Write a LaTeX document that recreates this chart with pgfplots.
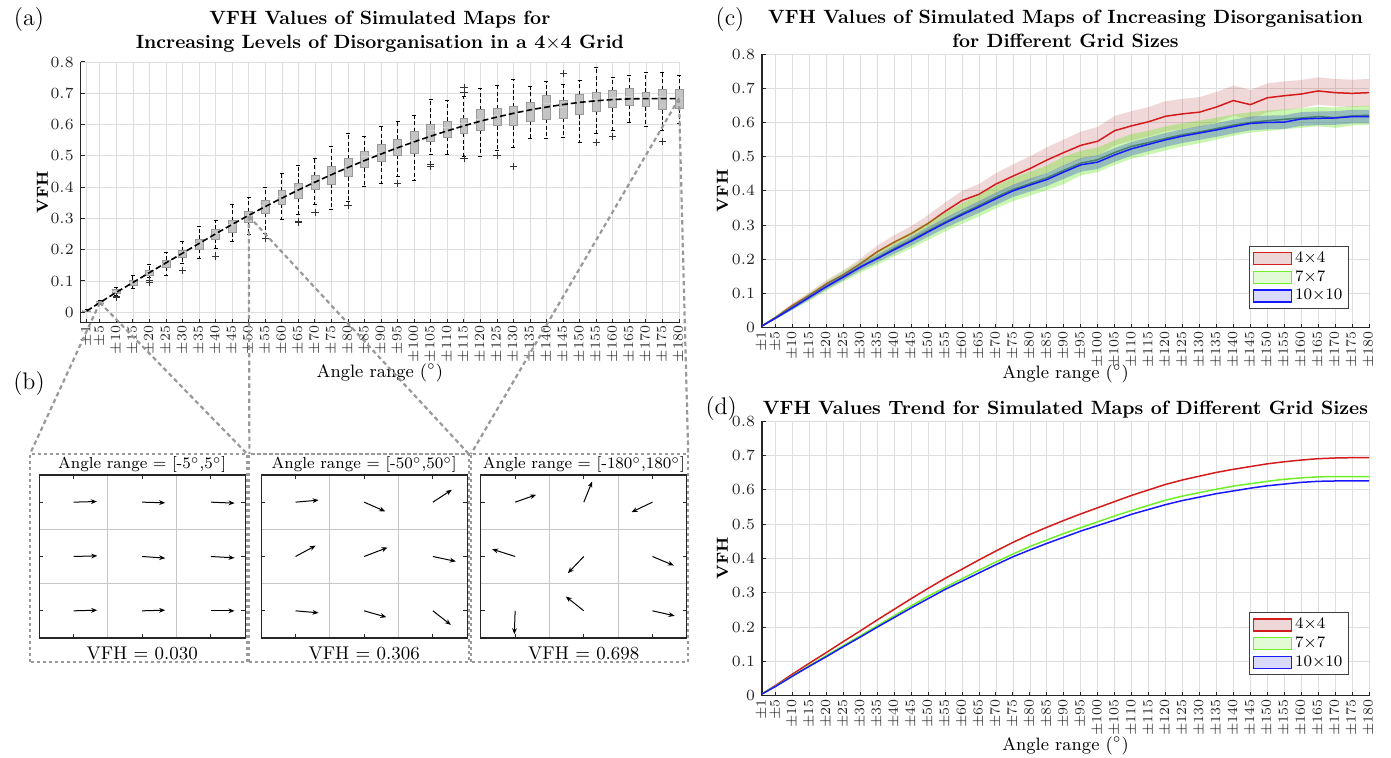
\RequirePackage{fix-cm}
\documentclass[border=0pt]{standalone}
\usepackage{pgfplots}
\pgfplotsset{compat=1.18}
\usepackage{pgfplotstable}
\usepgfplotslibrary{statistics}
\usetikzlibrary{arrows.meta}

\definecolor{tickc}{gray}{0.15}
\definecolor{gridc}{gray}{0.87}
\definecolor{lred}{RGB}{212,28,28}
\definecolor{lgreen}{RGB}{110,240,40}
\definecolor{dgreen}{RGB}{60,140,40}
\definecolor{lblue}{RGB}{25,25,255}
\definecolor{bred}{RGB}{180,60,60}
\definecolor{bgreen}{RGB}{100,230,30}
\definecolor{bblue}{RGB}{80,110,200}
\definecolor{lfr}{RGB}{236,214,214}
\definecolor{lfg}{RGB}{226,250,214}
\definecolor{lfb}{RGB}{218,218,250}
\definecolor{conn}{gray}{0.6}
\definecolor{boxfill}{gray}{0.77}
\definecolor{boxdraw}{gray}{0.6}

\newcommand{\fs}[1]{\fontsize{#1}{#1}\selectfont}
\newcommand{\bx}[6]{\addplot[boxplot prepared={draw position=#1,lower whisker=#2,lower quartile=#3,median=#4,upper quartile=#5,upper whisker=#6}] coordinates {};}

% trend line of panel (a)
\pgfplotstableread{
a t
1 0.004
5 0.031
10 0.064
15 0.095
20 0.127
25 0.158
30 0.189
35 0.220
40 0.251
45 0.281
50 0.310
55 0.338
60 0.365
65 0.391
70 0.416
75 0.440
80 0.463
85 0.485
90 0.506
95 0.526
100 0.545
105 0.563
110 0.580
115 0.596
120 0.611
125 0.624
130 0.636
135 0.647
140 0.656
145 0.664
150 0.671
155 0.676
160 0.680
165 0.682
170 0.683
175 0.683
180 0.683
}\ta

% panel (c): mean curves
\pgfplotstableread{
a rm gm bm
1 0.005 0.005 0.005
5 0.030 0.029 0.028
10 0.065 0.060 0.058
15 0.095 0.090 0.089
20 0.128 0.121 0.120
25 0.155 0.150 0.148
30 0.187 0.178 0.177
35 0.222 0.204 0.202
40 0.250 0.231 0.228
45 0.275 0.256 0.253
50 0.305 0.283 0.280
55 0.340 0.309 0.306
60 0.372 0.334 0.330
65 0.390 0.357 0.353
70 0.420 0.382 0.377
75 0.443 0.404 0.400
80 0.465 0.421 0.417
85 0.490 0.438 0.433
90 0.512 0.460 0.455
95 0.533 0.481 0.476
100 0.545 0.491 0.484
105 0.576 0.512 0.505
110 0.590 0.530 0.523
115 0.602 0.541 0.536
120 0.618 0.553 0.549
125 0.625 0.564 0.560
130 0.630 0.572 0.569
135 0.645 0.582 0.578
140 0.664 0.592 0.588
145 0.652 0.600 0.597
150 0.672 0.605 0.600
155 0.678 0.609 0.601
160 0.683 0.613 0.610
165 0.692 0.617 0.612
170 0.687 0.614 0.613
175 0.685 0.619 0.617
180 0.687 0.621 0.617
}\tc

% panel (d): trend curves
\pgfplotstableread{
a r g b
1 0.005 0.005 0.005
5 0.030 0.028 0.027
10 0.063 0.058 0.057
15 0.095 0.088 0.086
20 0.126 0.117 0.114
25 0.158 0.146 0.143
30 0.189 0.175 0.171
35 0.221 0.204 0.200
40 0.252 0.233 0.228
45 0.283 0.262 0.256
50 0.313 0.290 0.283
55 0.342 0.316 0.310
60 0.369 0.341 0.334
65 0.396 0.366 0.358
70 0.422 0.390 0.382
75 0.447 0.413 0.405
80 0.470 0.435 0.425
85 0.491 0.454 0.444
90 0.511 0.473 0.462
95 0.530 0.490 0.480
100 0.548 0.507 0.496
105 0.566 0.524 0.512
110 0.584 0.540 0.529
115 0.600 0.555 0.543
120 0.616 0.570 0.557
125 0.629 0.582 0.569
130 0.640 0.592 0.579
135 0.651 0.602 0.589
140 0.660 0.611 0.597
145 0.668 0.618 0.605
150 0.676 0.625 0.612
155 0.682 0.631 0.617
160 0.687 0.635 0.622
165 0.691 0.638 0.625
170 0.693 0.639 0.626
175 0.694 0.639 0.626
180 0.694 0.639 0.626
}\td

\pgfplotsset{
  vfh/.style={
    scale only axis,
    axis x line*=bottom, axis y line*=left,
    axis line style={tickc,line width=0.6pt},
    tick align=inside, major tick length=2pt,
    tick style={tickc,line width=0.5pt},
    xtick={1,5,10,15,20,25,30,35,40,45,50,55,60,65,70,75,80,85,90,95,100,105,110,115,120,125,130,135,140,145,150,155,160,165,170,175,180},
    xticklabel={$\pm\pgfmathprintnumber{\tick}$},
    xticklabel style={rotate=90,anchor=east,font=\fs{7},inner sep=1.5pt,text=tickc},
    ytick={0,0.1,0.2,0.3,0.4,0.5,0.6,0.7,0.8},
    yticklabel={$\pgfmathprintnumber[fixed,precision=1]{\tick}$},
    yticklabel style={font=\fs{7.8},text=tickc},
    grid=major, grid style={gridc,line width=0.4pt},
    xlabel={Angle range ($^\circ$)},
    xlabel style={font=\fs{9},anchor=base},
    ylabel={VFH},
    ylabel style={font=\fs{8}\bfseries,anchor=center},
    title style={anchor=south,inner sep=0pt,align=center,font=\fontsize{9.6}{12}\selectfont\bfseries},
  },
  lg/.style={
    legend style={at={(0.967,#1)},anchor=south east,draw=black!75,line width=0.5pt,
      font=\fs{8},inner xsep=1.5pt,inner ysep=1pt,row sep=-0.7pt,
      nodes={inner sep=1.6pt}},
    legend cell align=left,
  },
  bq/.style={
    scale only axis, width=103pt, height=81.5pt,
    xmin=0.5,xmax=3.5,ymin=0.5,ymax=3.5,
    xtick={1,2,3}, ytick={1,2,3}, xticklabels={}, yticklabels={},
    minor xtick={1.5,2.5}, minor ytick={1.5,2.5},
    xminorgrids, yminorgrids, minor grid style={gray!45,line width=0.4pt},
    minor tick length=0pt, major tick length=2pt, tick align=inside, tick pos=both,
    axis line style={tickc,line width=0.6pt}, tick style={tickc,line width=0.5pt},
    title style={at={(axis description cs:0.5,1)},anchor=base,yshift=-3pt,font=\fs{8}},
    xlabel style={at={(axis description cs:0.5,0)},anchor=base,yshift=-11pt,font=\fs{9.2}},
  },
}

\begin{document}
\begin{tikzpicture}[x=1pt,y=1pt]
\useasboundingbox (0pt,0pt) rectangle (695.5pt,379pt);

% ---------------- (a)
\begin{axis}[vfh, at={(40.35pt,217.7pt)}, anchor=south west, width=299.15pt, height=130.3pt,
  xmin=-0.8, xmax=180, ymin=-0.033, ymax=0.8, clip=false,
  title={VFH Values of Simulated Maps for\\Increasing Levels of Disorganisation in a 4$\times$4 Grid},
  title style={at={(axis description cs:0.5,1)},yshift=-1.15pt},
  xlabel style={at={(axis description cs:0.5,-0.21)}},
  ylabel style={at={(axis description cs:-0.064,0.5)}},
  boxplot/draw direction=y,
  boxplot/box extend=2.4, boxplot/whisker extend=1.3,
  boxplot/every box/.style={draw=boxdraw,fill=boxfill,line width=0.4pt},
  boxplot/every whisker/.style={black,dash pattern=on 2pt off 1.2pt,line width=0.5pt},
  boxplot/every median/.style={draw=gray!35,line width=0.4pt},
]
\bx{1}{0.002}{0.004}{0.005}{0.007}{0.009}
\bx{5}{0.025}{0.028}{0.031}{0.035}{0.038}
\bx{10}{0.052}{0.060}{0.067}{0.074}{0.080}
\bx{15}{0.077}{0.087}{0.095}{0.103}{0.119}
\bx{20}{0.112}{0.119}{0.130}{0.135}{0.154}
\bx{25}{0.119}{0.144}{0.156}{0.167}{0.190}
\bx{30}{0.156}{0.174}{0.190}{0.197}{0.226}
\bx{35}{0.172}{0.201}{0.220}{0.233}{0.273}
\bx{40}{0.204}{0.234}{0.252}{0.265}{0.293}
\bx{45}{0.226}{0.254}{0.280}{0.293}{0.343}
\bx{50}{0.247}{0.286}{0.310}{0.321}{0.366}
\bx{55}{0.252}{0.316}{0.340}{0.356}{0.399}
\bx{60}{0.295}{0.346}{0.370}{0.388}{0.444}
\bx{65}{0.311}{0.364}{0.395}{0.412}{0.470}
\bx{70}{0.346}{0.393}{0.420}{0.436}{0.491}
\bx{75}{0.329}{0.410}{0.445}{0.467}{0.531}
\bx{80}{0.353}{0.433}{0.465}{0.491}{0.573}
\bx{85}{0.401}{0.462}{0.497}{0.515}{0.563}
\bx{90}{0.412}{0.481}{0.510}{0.537}{0.595}
\bx{95}{0.433}{0.503}{0.530}{0.554}{0.609}
\bx{100}{0.420}{0.508}{0.548}{0.577}{0.630}
\bx{105}{0.505}{0.547}{0.580}{0.600}{0.680}
\bx{110}{0.505}{0.559}{0.592}{0.611}{0.676}
\bx{115}{0.497}{0.572}{0.605}{0.619}{0.689}
\bx{120}{0.499}{0.582}{0.615}{0.648}{0.716}
\bx{125}{0.518}{0.596}{0.628}{0.651}{0.725}
\bx{130}{0.527}{0.596}{0.635}{0.657}{0.745}
\bx{135}{0.556}{0.611}{0.648}{0.670}{0.721}
\bx{140}{0.556}{0.617}{0.668}{0.693}{0.737}
\bx{145}{0.559}{0.620}{0.655}{0.676}{0.729}
\bx{150}{0.542}{0.632}{0.672}{0.696}{0.740}
\bx{155}{0.570}{0.643}{0.680}{0.702}{0.783}
\bx{160}{0.580}{0.654}{0.688}{0.708}{0.751}
\bx{165}{0.607}{0.662}{0.690}{0.714}{0.758}
\bx{170}{0.595}{0.657}{0.688}{0.704}{0.765}
\bx{175}{0.582}{0.648}{0.690}{0.711}{0.768}
\bx{180}{0.602}{0.651}{0.683}{0.711}{0.758}
\addplot[black,line width=0.8pt,dash pattern=on 3pt off 1.5pt] table[x=a,y=t]{\ta};
\addplot[only marks,mark=+,mark size=1.8pt,black!80,mark options={line width=0.4pt}] coordinates {
(10,0.046)(10,0.050)(20,0.096)(20,0.101)(30,0.133)(40,0.180)(55,0.236)(65,0.286)(65,0.291)
(70,0.318)(80,0.340)(95,0.412)(105,0.465)(105,0.472)(115,0.492)(115,0.703)(115,0.718)
(125,0.502)(130,0.465)(145,0.763)(155,0.542)(160,0.563)(175,0.547)};
\coordinate (p5) at (axis cs:5,0.031);
\coordinate (p50) at (axis cs:50,0.307);
\coordinate (p180) at (axis cs:180,0.683);
\end{axis}

% ---------------- (c)
\begin{axis}[vfh, lg=0.07, at={(381pt,215.15pt)}, anchor=south west, width=303.5pt, height=136.85pt,
  xmin=1, xmax=180, ymin=0, ymax=0.8,
  title={VFH Values of Simulated Maps of Increasing Disorganisation\\for Different Grid Sizes},
  title style={at={(axis description cs:0.5,1)},yshift=-3.2pt},
  xlabel style={at={(axis description cs:0.5,-0.184)}},
  ylabel style={at={(axis description cs:-0.065,0.5)}},
]
% red band: upper edge forward, lower edge back
\addplot[fill=bred,fill opacity=0.2,draw=none,forget plot] coordinates {
(1,0.007)(5,0.034)(10,0.072)(15,0.104)(20,0.139)(25,0.168)(30,0.202)(35,0.240)(40,0.270)(45,0.297)
(50,0.329)(55,0.366)(60,0.400)(65,0.420)(70,0.452)(75,0.477)(80,0.501)(85,0.527)(90,0.550)(95,0.573)
(100,0.587)(105,0.619)(110,0.633)(115,0.645)(120,0.662)(125,0.669)(130,0.674)(135,0.689)(140,0.708)
(145,0.695)(150,0.714)(155,0.720)(160,0.724)(165,0.732)(170,0.727)(175,0.725)(180,0.727)
(180,0.647)(175,0.645)(170,0.647)(165,0.652)(160,0.642)(155,0.636)(150,0.630)(145,0.609)(140,0.620)
(135,0.601)(130,0.586)(125,0.581)(120,0.574)(115,0.559)(110,0.547)(105,0.533)(100,0.503)(95,0.493)
(90,0.474)(85,0.453)(80,0.429)(75,0.409)(70,0.388)(65,0.360)(60,0.344)(55,0.314)(50,0.281)(45,0.253)
(40,0.230)(35,0.204)(30,0.172)(25,0.142)(20,0.117)(15,0.086)(10,0.058)(5,0.026)(1,0.003)};
\addplot[lred,line width=0.75pt,forget plot] table[x=a,y=rm]{\tc};
% green band
\addplot[fill=bgreen,fill opacity=0.35,draw=none,forget plot] coordinates {
(1,0.007)(5,0.034)(10,0.068)(15,0.101)(20,0.134)(25,0.165)(30,0.195)(35,0.224)(40,0.253)(45,0.280)
(50,0.309)(55,0.337)(60,0.364)(65,0.389)(70,0.415)(75,0.438)(80,0.456)(85,0.474)(90,0.500)(95,0.517)
(100,0.527)(105,0.548)(110,0.566)(115,0.576)(120,0.588)(125,0.598)(130,0.605)(135,0.614)(140,0.623)
(145,0.630)(150,0.635)(155,0.638)(160,0.642)(165,0.645)(170,0.644)(175,0.647)(180,0.649)
(180,0.593)(175,0.591)(170,0.584)(165,0.589)(160,0.584)(155,0.580)(150,0.575)(145,0.570)(140,0.561)
(135,0.550)(130,0.539)(125,0.530)(120,0.518)(115,0.506)(110,0.494)(105,0.476)(100,0.455)(95,0.445)
(90,0.420)(85,0.402)(80,0.386)(75,0.370)(70,0.349)(65,0.325)(60,0.304)(55,0.281)(50,0.257)(45,0.232)
(40,0.209)(35,0.184)(30,0.161)(25,0.135)(20,0.108)(15,0.079)(10,0.052)(5,0.024)(1,0.003)};
\addplot[dgreen,line width=0.75pt,forget plot] table[x=a,y=gm]{\tc};
% blue band
\addplot[fill=bblue,fill opacity=0.42,draw=none,forget plot] coordinates {
(1,0.006)(5,0.031)(10,0.063)(15,0.096)(20,0.128)(25,0.157)(30,0.187)(35,0.213)(40,0.240)(45,0.266)
(50,0.294)(55,0.321)(60,0.346)(65,0.370)(70,0.395)(75,0.418)(80,0.436)(85,0.452)(90,0.475)(95,0.496)
(100,0.504)(105,0.525)(110,0.543)(115,0.556)(120,0.569)(125,0.580)(130,0.589)(135,0.598)(140,0.608)
(145,0.617)(150,0.620)(155,0.621)(160,0.630)(165,0.632)(170,0.633)(175,0.637)(180,0.637)
(180,0.597)(175,0.597)(170,0.593)(165,0.592)(160,0.590)(155,0.581)(150,0.580)(145,0.577)(140,0.568)
(135,0.558)(130,0.549)(125,0.540)(120,0.529)(115,0.516)(110,0.503)(105,0.485)(100,0.464)(95,0.456)
(90,0.435)(85,0.414)(80,0.398)(75,0.382)(70,0.359)(65,0.336)(60,0.314)(55,0.291)(50,0.266)(45,0.240)
(40,0.216)(35,0.191)(30,0.167)(25,0.139)(20,0.112)(15,0.082)(10,0.053)(5,0.025)(1,0.004)};
\addplot[lblue,line width=0.75pt,forget plot] table[x=a,y=bm]{\tc};
\addlegendimage{legend image code/.code={\draw[lred,fill=lfr,line width=0.6pt] (0pt,-3pt) rectangle (19pt,3pt);}}
\addlegendentry{4$\times$4}
\addlegendimage{legend image code/.code={\draw[lgreen,fill=lfg,line width=0.6pt] (0pt,-3pt) rectangle (19pt,3pt);}}
\addlegendentry{7$\times$7}
\addlegendimage{legend image code/.code={\draw[lblue,fill=lfb,line width=0.6pt] (0pt,-3pt) rectangle (19pt,3pt);}}
\addlegendentry{10$\times$10}
\end{axis}

% ---------------- (d)
\begin{axis}[vfh, lg=0.075, at={(381pt,31.15pt)}, anchor=south west, width=303.5pt, height=137.2pt,
  xmin=1, xmax=180, ymin=0, ymax=0.8,
  title={VFH Values Trend for Simulated Maps of Different Grid Sizes},
  title style={at={(axis description cs:0.5,1)},yshift=-4.8pt},
  xlabel style={at={(axis description cs:0.5,-0.2)}},
  ylabel style={at={(axis description cs:-0.065,0.5)}},
]
\addplot[lred,line width=0.75pt,forget plot] table[x=a,y=r]{\td};
\addplot[lgreen,line width=0.75pt,forget plot] table[x=a,y=g]{\td};
\addplot[lblue,line width=0.75pt,forget plot] table[x=a,y=b]{\td};
\addlegendimage{legend image code/.code={\draw[lred,fill=lfr,line width=0.6pt] (0pt,-3pt) rectangle (19pt,3pt);}}
\addlegendentry{4$\times$4}
\addlegendimage{legend image code/.code={\draw[lgreen,fill=lfg,line width=0.6pt] (0pt,-3pt) rectangle (19pt,3pt);}}
\addlegendentry{7$\times$7}
\addlegendimage{legend image code/.code={\draw[lblue,fill=lfb,line width=0.6pt] (0pt,-3pt) rectangle (19pt,3pt);}}
\addlegendentry{10$\times$10}
\end{axis}

% ---------------- (b)
\begin{axis}[bq, at={(19.6pt,60pt)}, anchor=south west,
  title={Angle range = [-5$^\circ$,5$^\circ$]}, xlabel={VFH = 0.030}]
\addplot[quiver={u=\thisrow{u},v=\thisrow{v}},-{Stealth[length=3pt,width=2.4pt]},black,line width=0.5pt] table {
x y u v
1 3 0.340 0.012
2 3 0.335 -0.012
3 3 0.345 -0.018
1 2 0.345 0.012
2 2 0.335 -0.030
3 2 0.345 -0.025
1 1 0.345 0.012
2 1 0.335 0.012
3 1 0.345 0.000
};
\end{axis}
\begin{axis}[bq, at={(130.6pt,60pt)}, anchor=south west,
  title={Angle range = [-50$^\circ$,50$^\circ$]}, xlabel={VFH = 0.306}]
\addplot[quiver={u=\thisrow{u},v=\thisrow{v}},-{Stealth[length=3pt,width=2.4pt]},black,line width=0.5pt] table {
x y u v
1 3 0.335 0.037
2 3 0.305 -0.170
3 3 0.275 0.227
1 2 0.293 0.200
2 2 0.340 0.165
3 2 0.335 -0.090
1 1 0.335 -0.037
2 1 0.323 -0.117
3 1 0.262 -0.258
};
\end{axis}
\begin{axis}[bq, at={(240.4pt,60pt)}, anchor=south west,
  title={Angle range = [-180$^\circ$,180$^\circ$]}, xlabel={VFH = 0.698}]
\addplot[quiver={u=\thisrow{u},v=\thisrow{v}},-{Stealth[length=3pt,width=2.4pt]},black,line width=0.5pt] table {
x y u v
1 3 0.305 0.135
2 3 0.122 0.380
3 3 -0.305 -0.184
1 2 -0.335 0.135
2 2 -0.232 -0.307
3 2 0.311 -0.166
1 1 -0.012 -0.430
2 1 -0.262 0.264
3 1 0.323 -0.092
};
\end{axis}

% frames of (b) and connectors
\begin{scope}[draw=conn,line width=1pt,dash pattern=on 1.6pt off 1.4pt]
\draw (15pt,48pt) rectangle (123.6pt,152pt);
\draw (124.7pt,48pt) rectangle (234.4pt,152pt);
\draw (235.5pt,48pt) rectangle (344.1pt,152pt);
\end{scope}
\begin{scope}[draw=conn,line width=1.1pt,dash pattern=on 2.2pt off 1.6pt]
\draw (p5) -- (15pt,152pt);
\draw (p5) -- (123.6pt,152pt);
\draw (p50) -- (124.7pt,152pt);
\draw (p50) -- (234.4pt,152pt);
\draw (p180) -- (235.5pt,152pt);
\draw (p180) -- (344.1pt,152pt);
\end{scope}

% panel letters
\node[font=\fs{12}] at (14.5pt,369pt) {(a)};
\node[font=\fs{12}] at (14.5pt,187pt) {(b)};
\node[font=\fs{12}] at (365pt,369pt) {(c)};
\node[font=\fs{12}] at (360.6pt,174.5pt) {(d)};
\end{tikzpicture}
\end{document}
